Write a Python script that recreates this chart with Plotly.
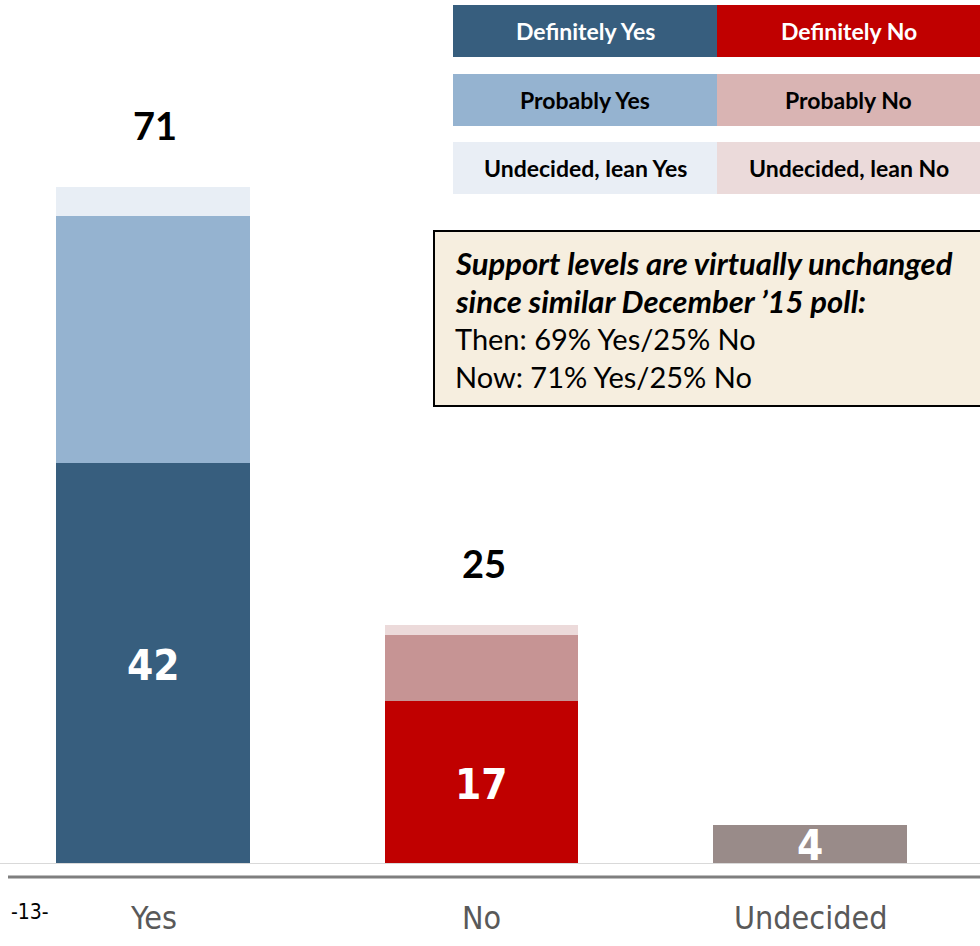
import plotly.graph_objects as go

categories = ["Yes", "No", "Undecided"]
definitely = [42, 17, 4]
probably = [26, 7, 0]
lean = [3, 1, 0]
totals = [71, 25, None]

legend_rows = [
    ("Definitely Yes", "Definitely No"),
    ("Probably Yes", "Probably No"),
    ("Undecided, lean Yes", "Undecided, lean No"),
]
note_lines = [
    ("<b><i>Support levels are virtually unchanged</i></b>", 31),
    ("<b><i>since similar December \u201915 poll:</i></b>", 31),
    ("Then: 69% Yes/25% No", 29),
    ("Now: 71% Yes/25% No", 29),
]

W, H = 980, 946
def px(x):
    return x / W
def py(y):
    return (H - y) / H

c_def = ["#375E7E", "#C00000", "#998B89"]
c_prob = ["#95B3D0", "#C69494", "#998B89"]
c_lean = ["#E8EEF5", "#ECDADA", "#998B89"]
leg_colors = [("#375E7E", "#C00000"), ("#95B3D0", "#D9B4B3"), ("#E9EEF5", "#EBDADA")]
leg_text_colors = [("white", "white"), ("black", "black"), ("black", "black")]

COND = "DejaVu Sans Condensed, Liberation Sans Narrow, sans-serif"

fig = go.Figure()
for vals, cols in [(definitely, c_def), (probably, c_prob), (lean, c_lean)]:
    fig.add_trace(go.Bar(x=categories, y=vals, marker=dict(color=cols, line=dict(width=0)),
                         width=0.59, hoverinfo="skip", showlegend=False))

annotations = []
for cat, d, p, l, t in zip(categories, definitely, probably, lean, totals):
    if t is not None:
        annotations.append(dict(x=cat, y=d + p + l, xref="x", yref="y", text=f"<b>{t}</b>",
                                showarrow=False, xanchor="center", yanchor="middle", yshift=62, xshift=2,
                                font=dict(family="Lato, sans-serif", size=38, color="black")))
    annotations.append(dict(x=cat, y=d / 2, xref="x", yref="y", text=f"<b>{d}</b>",
                            showarrow=False, xanchor="center", yanchor="middle", yshift=-2,
                            font=dict(family=COND, size=42, color="white")))
    annotations.append(dict(x=cat, y=py(918), xref="x", yref="paper", text=cat,
                            showarrow=False, xanchor="center", yanchor="middle",
                            font=dict(family=COND, size=32, color="#595959")))

annotations.append(dict(x=px(30), y=py(912), xref="paper", yref="paper", text="-13-", showarrow=False,
                        xanchor="center", yanchor="middle",
                        font=dict(family=COND, size=21, color="black")))

shapes = []
row_tops = [5, 74, 142]
for (lt, rt), (lc, rc), (ltc, rtc), top in zip(legend_rows, leg_colors, leg_text_colors, row_tops):
    bot = top + 52
    for x0, x1, col, txt, tc in [(453, 717, lc, lt, ltc), (717, 980, rc, rt, rtc)]:
        shapes.append(dict(type="rect", xref="paper", yref="paper", x0=px(x0), x1=px(x1),
                           y0=py(bot), y1=py(top), fillcolor=col, line=dict(width=0), layer="above"))
        annotations.append(dict(x=px((x0 + x1) / 2), y=py((top + bot) / 2), xref="paper", yref="paper",
                                text=f"<b>{txt}</b>", showarrow=False, xanchor="center", yanchor="middle",
                                font=dict(family="Lato, sans-serif", size=23, color=tc)))

shapes.append(dict(type="rect", xref="paper", yref="paper", x0=px(434), x1=px(981),
                   y0=py(406), y1=py(231), fillcolor="#F6EEDF", line=dict(color="black", width=2), layer="above"))
for i, (line, fs) in enumerate(note_lines):
    annotations.append(dict(x=px(453), y=py(263 + i * 38), xref="paper", yref="paper", text=line,
                            showarrow=False, xanchor="left", yanchor="middle",
                            font=dict(family="Lato, sans-serif", size=fs, color="black")))

shapes.append(dict(type="line", xref="paper", yref="paper", x0=px(8), x1=px(980), y0=py(877), y1=py(877),
                   line=dict(color="#7F7F7F", width=3)))

fig.update_layout(
    width=W, height=H, margin=dict(l=0, r=0, t=0, b=0),
    paper_bgcolor="white", plot_bgcolor="white",
    barmode="stack", bargap=0.41,
    xaxis=dict(domain=[0, 1], range=[-153 / 328.5, (980 - 153) / 328.5], showticklabels=False,
               showline=True, linecolor="#D9D9D9", linewidth=1, showgrid=False, zeroline=False, ticks=""),
    yaxis=dict(domain=[(H - 863) / H, 1], range=[0, 863 / 9.52], visible=False, showgrid=False, zeroline=False),
    annotations=annotations, shapes=shapes,
)

fig.write_html("out.html", config={"displayModeBar": False},
               post_script="document.body.style.margin='0';document.body.style.overflow='hidden';")
